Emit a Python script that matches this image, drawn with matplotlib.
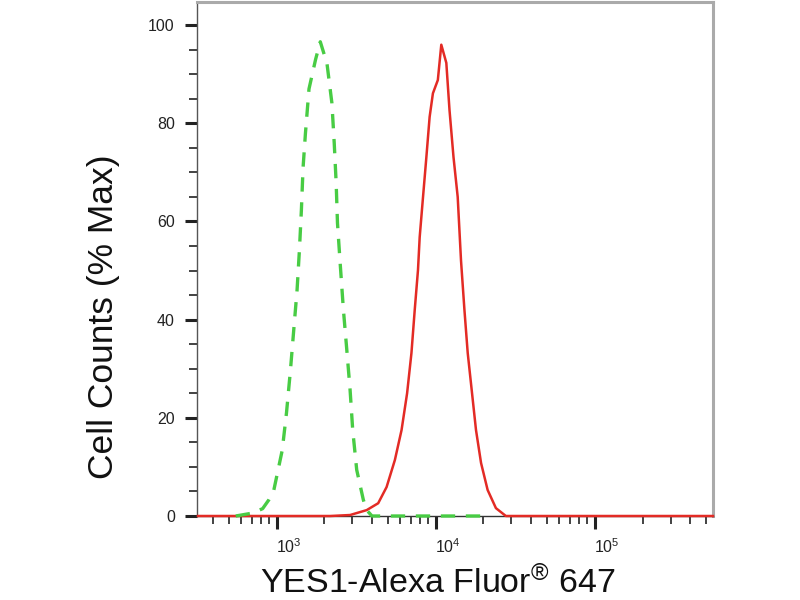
import matplotlib
matplotlib.use("Agg")
import matplotlib.pyplot as plt
import matplotlib.transforms as mtransforms
from matplotlib.ticker import LogLocator, LogFormatterSciNotation, MultipleLocator, NullFormatter

plt.rcParams["font.family"] = ["Liberation Sans", "DejaVu Sans"]
plt.rcParams["mathtext.fontset"] = "custom"
plt.rcParams["mathtext.rm"] = "Liberation Sans"
plt.rcParams["mathtext.default"] = "regular"

# isotype control (green, dashed)
ctrl_x = [554, 708, 818, 895, 962, 1086, 1155, 1223, 1283, 1346, 1393, 1433, 1468,
          1520, 1600, 1760, 1884, 2075, 2229, 2305, 2371, 2416, 2512, 2633, 2766,
          2900, 3013, 3192, 3513, 3689, 3981, 21760]
ctrl_y = [0, 0.6, 1.5, 3.3, 5.3, 13.4, 21, 29.7, 37.9, 46, 54.2, 62.3, 70.9,
          78, 87, 93, 96.6, 92.2, 84.1, 76, 67.8, 59.7, 51.5, 42, 33.8,
          25.7, 17.5, 9.4, 3.3, 1.2, 0, 0]

# YES1 stained sample (red)
yes1_x = [321, 2175, 2900, 3689, 4356, 4920, 5546, 6109, 6620, 7050, 7394, 7750,
          7943, 8337, 8750, 9173, 9620, 10330, 10860, 11680, 12230, 12960, 13770,
          14450, 15180, 15920, 16950, 17950, 19310, 21240, 23950, 27660, 554000]
yes1_y = [0, 0, 0.2, 1.2, 2.6, 5.9, 11.4, 17.5, 25, 33.2, 42, 50.1,
          56.8, 65, 73.1, 81.3, 86.1, 88.8, 96, 92.3, 82.7, 73.1, 65,
          52, 42, 33.2, 25, 17.5, 10.8, 5.3, 1.6, 0, 0]

y_ticks = [0, 20, 40, 60, 80, 100]
x_ticks = [1e3, 1e4, 1e5]

fig = plt.figure(figsize=(8, 6), dpi=100)
ax = fig.add_axes([197 / 800, 1 - 516 / 600, 516 / 800, 514 / 600])

ax.plot(yes1_x, yes1_y, color="#e32b25", lw=1.8, clip_on=False, zorder=3)
ax.plot(ctrl_x, ctrl_y, color="#48cc44", lw=2.4, dashes=(4.3, 3.2),
        clip_on=False, zorder=4)

ax.set_xscale("log")
ax.set_xlim(10 ** 2.5, 10 ** 5.744)
ax.set_ylim(0, 104.7)

ax.set_xticks(x_ticks)
ax.xaxis.set_major_formatter(LogFormatterSciNotation())
ax.xaxis.set_minor_locator(LogLocator(base=10, subs=range(2, 10), numticks=20))
ax.xaxis.set_minor_formatter(NullFormatter())
ax.set_yticks(y_ticks)
ax.yaxis.set_minor_locator(MultipleLocator(5))

ax.tick_params(axis="both", which="major", direction="out", color="#222222",
               length=9, width=2.2, labelsize=11.5)
ax.tick_params(axis="both", which="minor", direction="out", color="#222222",
               length=5.5, width=1.2)
ax.tick_params(axis="y", which="major", pad=7, labelcolor="#222222")
ax.tick_params(axis="x", which="major", pad=6, labelcolor="#222222")

# labels in the original sit a bit right of their ticks
shift = mtransforms.ScaledTranslation(0.12, 0, fig.dpi_scale_trans)
for lab in ax.get_xticklabels():
    lab.set_transform(lab.get_transform() + shift)

for side in ["top", "right"]:
    ax.spines[side].set_color("#aaaaaa")
    ax.spines[side].set_linewidth(2.2)
ax.spines["left"].set_color("#555555")
ax.spines["left"].set_linewidth(1.0)
ax.spines["bottom"].set_color("#333333")
ax.spines["bottom"].set_linewidth(1.0)

fig.text(104 / 800, 1 - 317 / 600, "Cell Counts (% Max)", rotation=90,
         ha="center", va="center", fontsize=25.5, color="#111111")
fig.text(438 / 800, 7 / 600, "YES1-Alexa Fluor$^{®}$ 647",
         ha="center", va="baseline", fontsize=24.5, color="#111111")

fig.savefig("out.png", dpi=100)
